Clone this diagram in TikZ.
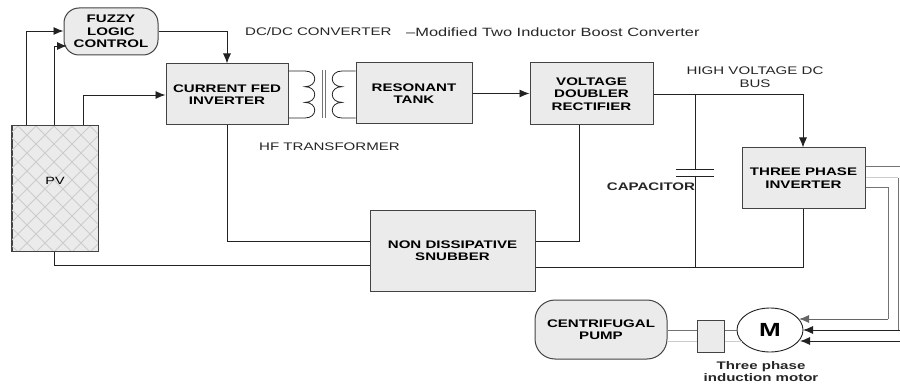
\documentclass[tikz,border=0pt]{standalone}
\usepackage{fontspec}
\setmainfont[FakeStretch=1.37]{Liberation Sans}
\usetikzlibrary{arrows.meta,calc,shapes.geometric}
\definecolor{boxfill}{HTML}{EBEBEB}
\definecolor{wire}{HTML}{222222}
\tikzset{
 x=1pt,y=-1pt,
 blockbox/.style={draw=wire!85!white,line width=1pt,fill=boxfill,inner sep=0pt,align=center,font=\bfseries\fontsize{11}{12.5}\selectfont},
 wirel/.style={draw=wire,line width=0.9pt},
 arr/.style={wirel,-{Latex[length=10pt,width=8pt]}},
 lbl/.style={inner sep=0pt,anchor=west,font=\fontsize{11}{12.5}\selectfont,text=black!85},
 blbl/.style={inner sep=0pt,align=center,font=\bfseries\fontsize{11}{12}\selectfont,text=black!85},
 greyl/.style={draw=black!55,line width=1pt},
 palel/.style={draw=black!20,line width=1pt},
 hatch/.style={draw=black!20,line width=1pt}
}
\begin{document}
\begin{tikzpicture}
\useasboundingbox (0,0) rectangle (900,385);
% blocks
\node[blockbox,minimum width=86pt,minimum height=125pt] (pv) at (55,188.5) {};
\begin{scope}
\clip (12,126) rectangle (98,251);
\foreach \k in {-180,-162,...,360}{
 \draw[hatch] (\k,126) -- ++(150,150);
 \draw[hatch] (\k,126) -- ++(-150,150);
}
\end{scope}
\draw[draw=wire!85!white,line width=1pt] (pv.south west) rectangle (pv.north east);
\node[inner sep=0pt,font=\fontsize{10.5}{12}\selectfont] at (55,181) {PV};
\node[blockbox,rounded corners=15pt,minimum width=94pt,minimum height=47pt,text depth=0pt] (fuzzy) at (111,31.5) {FUZZY\\LOGIC\\CONTROL};
\node[blockbox,minimum width=122pt,minimum height=61pt] (cfi) at (227,94.5) {CURRENT FED\\INVERTER};
\node[blockbox,minimum width=116pt,minimum height=61pt] (res) at (414,93.5) {RESONANT\\TANK};
\node[blockbox,minimum width=123pt,minimum height=62pt] (vdr) at (591.5,94) {VOLTAGE\\DOUBLER\\RECTIFIER};
\node[blockbox,minimum width=123pt,minimum height=60pt] (tpi) at (803.5,178) {THREE PHASE\\INVERTER};
\node[blockbox,minimum width=165pt,minimum height=81pt] (nds) at (452.5,250.5) {NON DISSIPATIVE\\SNUBBER};
\node[blockbox,rounded corners=20pt,minimum width=132pt,minimum height=59pt] (pump) at (601,329.5) {CENTRIFUGAL\\PUMP};
\node[blockbox,minimum width=27pt,minimum height=32pt] (cpl) at (710.5,336) {};
\node[draw=wire,line width=0.9pt,fill=white,ellipse,inner sep=0pt,minimum width=66pt,minimum height=44pt,font=\bfseries\fontsize{19}{20}\selectfont] (mot) at (770,330) {M};
% free ends
\coordinate (a) at (26,31);
\coordinate (b) at (54,46);
\coordinate (c) at (83,95);
\coordinate (d) at (54,265);
\coordinate (e) at (579,125);
\coordinate (f) at (695,94);
\coordinate (capa) at (695,169);
\coordinate (capb) at (695,176);
\coordinate (h) at (900,166.5);
\coordinate (i) at (898,178);
\coordinate (j) at (888,188);
\coordinate (k) at (888,319);
\coordinate (m) at (900,330);
\coordinate (n) at (900,341);
\coordinate (ma) at (799,319);
\coordinate (mb) at (803,330);
\coordinate (mc) at (800,341);
\coordinate (tl1) at (305,71);
\coordinate (tl2) at (305,118);
\coordinate (tr1) at (342,71);
\coordinate (tr2) at (342,118);
% connectors
\draw[arr] (pv.north -| a) |- (fuzzy.west |- a);
\draw[arr] (pv.north -| b) -- (b) -- (67,46);
\draw[arr] (pv.north -| c) |- (cfi.west |- c);
\draw[arr] (fuzzy.east |- a) -| (cfi.north);
\draw[wirel] (cfi.south) |- (nds.west |- 0,241);
\draw[wirel] (vdr.south -| e) |- (nds.east |- 0,241);
\draw[wirel] (pv.south -| d) -- (d) -- (nds.west |- d);
\draw[wirel] (nds.east |- 0,267) -- (803,267) -- (tpi.south -| 803,0);
\draw[arr] (vdr.east |- f) -| (tpi.north -| 803,0);
\draw[wirel] (f) -- (capa);
\draw[wirel] (capb) -- (695,267);
\draw[wirel] (676,169) -- (714,169);
\draw[wirel] (676,176) -- (714,176);
% transformer
\draw[wirel,line width=0.8pt] (cfi.east |- tl1) -- (tl1)
 .. controls +(13,0) and +(13,0) .. ++(0,15.7)
 .. controls +(13,0) and +(13,0) .. ++(0,15.7)
 .. controls +(13,0) and +(13,0) .. (tl2) -- (cfi.east |- tl2);
\draw[wirel,line width=0.8pt] (res.west |- tr1) -- (tr1)
 .. controls +(-13,0) and +(-13,0) .. ++(0,15.7)
 .. controls +(-13,0) and +(-13,0) .. ++(0,15.7)
 .. controls +(-13,0) and +(-13,0) .. (tr2) -- (res.west |- tr2);
\draw[greyl,line width=0.8pt] (322,70) -- (322,118);
\draw[greyl,line width=0.8pt] (325,70) -- (325,118);
\draw[arr] (res.east) -- (vdr.west |- res.east);
% inverter outputs
\draw[greyl] (tpi.east |- h) -- (h);
\draw[palel] (tpi.east |- i) -- (i);
\draw[greyl] (i) -- (898,330);
\draw[greyl] (tpi.east |- j) -- (j) -- (k);
\draw[arr,draw=black!60] (k) -- (ma);
\draw[arr] (m) -- (mb);
\draw[arr] (n) -- (mc);
% shaft
\draw[greyl] (pump.east |- 0,330) -- (cpl.west |- 0,330);
\draw[palel] (pump.east |- 0,341) -- (cpl.west |- 0,341);
\draw[greyl] (cpl.east |- 0,330) -- (mot.west);
\draw[palel] (cpl.east |- 0,341) -- (742,341);
% labels
\node[lbl] at (245,32) {DC/DC CONVERTER};
\node[lbl,font=\fontsize{12}{13}\selectfont] at (406,32) {–Modified Two Inductor Boost Converter};
\node[lbl] at (259,147) {HF TRANSFORMER};
\node[lbl,anchor=center,align=center,font=\fontsize{11}{12.5}\selectfont] at (755,77) {HIGH VOLTAGE DC\\BUS};
\node[blbl] at (651,187) {CAPACITOR};
\node[blbl] at (761,372) {Three phase\\induction motor};
\end{tikzpicture}
\end{document}
